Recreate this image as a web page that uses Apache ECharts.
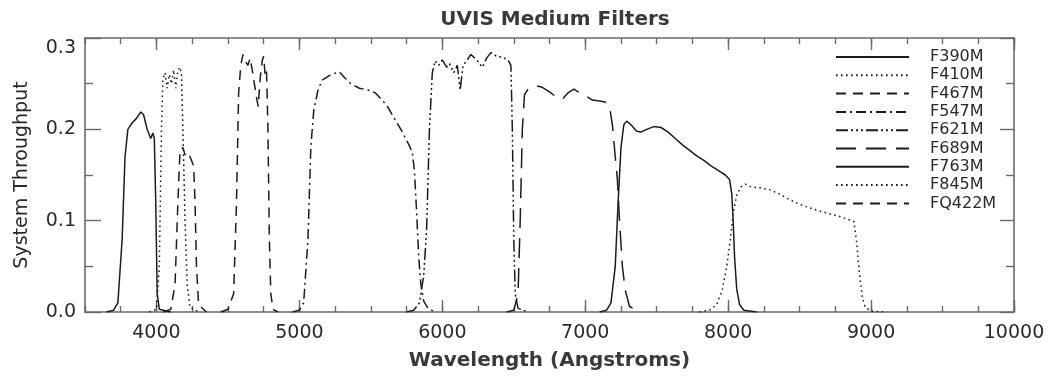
<!DOCTYPE html>
<html>
<head>
<meta charset="utf-8">
<script src="https://cdn.jsdelivr.net/npm/echarts@6/dist/echarts.min.js"></script>
<style>
  html, body { margin: 0; padding: 0; background: #ffffff; }
  #chart { width: 1052px; height: 376px; }
</style>
</head>
<body>
<div id="chart"></div>
<script>
// Filter throughput curves: [wavelength (Angstroms), system throughput]
const F390M = [[3650,0],[3700,0.002],[3730,0.01],[3760,0.08],[3780,0.17],[3800,0.2],[3830,0.207],[3860,0.212],[3890,0.219],[3910,0.216],[3935,0.2],[3960,0.19],[3975,0.196],[3985,0.19],[3995,0.12],[4005,0.02],[4020,0.003],[4100,0]];
const F410M = [[3950,0],[4000,0.003],[4020,0.05],[4035,0.2],[4045,0.255],[4060,0.262],[4075,0.245],[4090,0.26],[4105,0.25],[4120,0.265],[4135,0.245],[4150,0.265],[4165,0.268],[4175,0.26],[4185,0.2],[4200,0.1],[4215,0.03],[4235,0.005],[4300,0]];
const F467M = [[4450,0],[4500,0.003],[4540,0.02],[4560,0.12],[4575,0.24],[4590,0.27],[4605,0.282],[4620,0.275],[4640,0.27],[4655,0.278],[4670,0.265],[4685,0.25],[4700,0.235],[4712,0.225],[4725,0.255],[4740,0.275],[4750,0.28],[4760,0.26],[4770,0.265],[4780,0.2],[4790,0.08],[4800,0.02],[4815,0.003],[4850,0]];
const F547M = [[4950,0],[5000,0.002],[5030,0.01],[5060,0.08],[5080,0.18],[5100,0.22],[5130,0.243],[5160,0.254],[5220,0.26],[5280,0.263],[5320,0.256],[5360,0.25],[5420,0.245],[5480,0.243],[5530,0.24],[5580,0.232],[5620,0.224],[5660,0.213],[5710,0.2],[5760,0.185],[5790,0.175],[5805,0.155],[5820,0.11],[5835,0.06],[5850,0.03],[5870,0.012],[5900,0.004],[5950,0]];
const F621M = [[5750,0],[5800,0.002],[5840,0.01],[5870,0.04],[5890,0.09],[5910,0.2],[5930,0.262],[5950,0.275],[5975,0.27],[6000,0.276],[6030,0.268],[6050,0.272],[6080,0.262],[6105,0.27],[6125,0.243],[6145,0.27],[6170,0.275],[6200,0.282],[6240,0.276],[6280,0.268],[6310,0.278],[6340,0.284],[6380,0.28],[6420,0.279],[6460,0.276],[6480,0.27],[6490,0.2],[6500,0.08],[6510,0.02],[6530,0.004],[6600,0]];
const F689M = [[6450,0],[6500,0.002],[6530,0.02],[6545,0.1],[6560,0.2],[6575,0.238],[6600,0.244],[6650,0.248],[6700,0.246],[6750,0.241],[6800,0.235],[6840,0.233],[6880,0.24],[6920,0.244],[6960,0.24],[7000,0.237],[7050,0.232],[7100,0.231],[7140,0.23],[7170,0.225],[7190,0.205],[7210,0.17],[7225,0.145],[7240,0.1],[7260,0.05],[7280,0.024],[7310,0.006],[7380,0]];
const F763M = [[7100,0],[7150,0.002],[7180,0.01],[7210,0.05],[7230,0.12],[7250,0.18],[7270,0.205],[7290,0.209],[7320,0.205],[7360,0.198],[7390,0.197],[7430,0.2],[7480,0.203],[7530,0.202],[7580,0.197],[7630,0.19],[7680,0.183],[7730,0.177],[7780,0.171],[7830,0.166],[7880,0.16],[7930,0.155],[7980,0.15],[8010,0.145],[8025,0.13],[8035,0.1],[8045,0.06],[8060,0.025],[8080,0.008],[8110,0.002],[8200,0]];
const F845M = [[7800,0],[7870,0.002],[7920,0.008],[7960,0.025],[7990,0.05],[8015,0.079],[8035,0.108],[8060,0.128],[8090,0.137],[8120,0.14],[8160,0.137],[8220,0.136],[8290,0.134],[8360,0.129],[8430,0.123],[8500,0.118],[8570,0.114],[8630,0.111],[8700,0.108],[8770,0.105],[8830,0.102],[8880,0.099],[8900,0.075],[8920,0.04],[8940,0.015],[8960,0.005],[9000,0.001],[9100,0]];
const FQ422M = [[4050,0],[4100,0.003],[4130,0.03],[4150,0.12],[4165,0.178],[4185,0.18],[4200,0.172],[4220,0.175],[4240,0.168],[4260,0.16],[4270,0.12],[4280,0.05],[4295,0.008],[4350,0]];

const filterNames = ['F390M', 'F410M', 'F467M', 'F547M', 'F621M', 'F689M', 'F763M', 'F845M', 'FQ422M'];
const filterCurves = [F390M, F410M, F467M, F547M, F621M, F689M, F763M, F845M, FQ422M];

// Axis ranges and tick positions
const xMin = 3500, xMax = 10000;
const xMajorTicks = [4000, 5000, 6000, 7000, 8000, 9000, 10000];
const xMinorStep = 250;
const yMin = 0, yMax = 0.3, yStep = 0.1;

// Line dash patterns, cycling solid, dotted, dashed, dash-dot, dash-dot-dot-dot, long dash
const SOLID = 'solid';
const DOTTED = [1.6, 3.4];
const DASHED = [10, 7];
const DASH_DOT = [10, 4, 2, 4];
const DASH_3DOT = [12, 3, 2, 3, 2, 3, 2, 3];
const LONG_DASH = [20, 10];
const dashStyles = [SOLID, DOTTED, DASHED, DASH_DOT, DASH_3DOT, LONG_DASH, SOLID, DOTTED, DASHED];

const INK = '#1c1c1c';
const FRAME = '#6a6a6a';
const TEXT = '#2a2a2a';
const FONT = 'DejaVu Sans';

const frameLine = { show: true, onZero: false, lineStyle: { color: FRAME, width: 1.6 } };
const tickLine = { color: FRAME, width: 1.4 };

const chart = echarts.init(document.getElementById('chart'), null, { renderer: 'canvas' });

const option = {
  animation: false,
  backgroundColor: '#ffffff',
  title: {
    text: 'UVIS Medium Filters',
    left: 550,
    top: 5,
    textAlign: 'center',
    textStyle: { fontFamily: FONT, fontSize: 20, fontWeight: 'bold', color: '#3a3a3a' }
  },
  grid: { left: 85, right: 38, top: 38, bottom: 64, containLabel: false },
  legend: {
    orient: 'vertical',
    left: 830,
    top: 44,
    itemWidth: 73,
    itemHeight: 12,
    itemGap: 2.3,
    selectedMode: false,
    itemStyle: { opacity: 0 },
    textStyle: { fontFamily: FONT, fontSize: 16, color: TEXT, padding: [0, 0, 0, 16] },
    data: filterNames
  },
  xAxis: [
    {
      type: 'value', min: xMin, max: xMax, position: 'bottom',
      axisLine: frameLine,
      axisTick: { show: true, inside: true, length: 12, customValues: xMajorTicks, lineStyle: tickLine },
      axisLabel: {
        show: true, customValues: xMajorTicks, margin: 12, fontFamily: FONT, fontSize: 19, color: TEXT,
        formatter: v => String(v)
      },
      splitLine: { show: false },
      name: 'Wavelength (Angstroms)', nameLocation: 'middle', nameGap: 39,
      nameTextStyle: { fontFamily: FONT, fontSize: 20, fontWeight: 'bold', color: '#3a3a3a' }
    },
    {
      type: 'value', min: xMin, max: xMax, interval: xMinorStep, position: 'bottom',
      axisLine: { show: false, onZero: false },
      axisTick: { show: true, inside: true, length: 6, lineStyle: tickLine },
      axisLabel: { show: false }, splitLine: { show: false }
    },
    {
      type: 'value', min: xMin, max: xMax, position: 'top',
      axisLine: frameLine,
      axisTick: { show: true, inside: true, length: 12, customValues: xMajorTicks, lineStyle: tickLine },
      axisLabel: { show: false }, splitLine: { show: false }
    },
    {
      type: 'value', min: xMin, max: xMax, interval: xMinorStep, position: 'top',
      axisLine: { show: false, onZero: false },
      axisTick: { show: true, inside: true, length: 6, lineStyle: tickLine },
      axisLabel: { show: false }, splitLine: { show: false }
    }
  ],
  yAxis: [
    {
      type: 'value', min: yMin, max: yMax, interval: yStep, position: 'left',
      axisLine: frameLine,
      axisTick: { show: true, inside: true, length: 16, lineStyle: tickLine },
      minorTick: { show: true, splitNumber: 2, length: 8, lineStyle: tickLine },
      axisLabel: {
        show: true, margin: 9, fontFamily: FONT, fontSize: 19, color: TEXT,
        formatter: v => (Math.abs(v - yMax) < 1e-9 ? '{top|' + v.toFixed(1) + '}' : v.toFixed(1)),
        rich: { top: { fontFamily: FONT, fontSize: 19, color: TEXT, padding: [20, 0, 0, 0] } }
      },
      splitLine: { show: false },
      name: 'System Throughput', nameLocation: 'middle', nameGap: 53,
      nameTextStyle: { fontFamily: FONT, fontSize: 19, color: TEXT }
    },
    {
      type: 'value', min: yMin, max: yMax, interval: yStep, position: 'right',
      axisLine: frameLine,
      axisTick: { show: true, inside: true, length: 14, lineStyle: tickLine },
      minorTick: { show: true, splitNumber: 2, length: 8, lineStyle: tickLine },
      axisLabel: { show: false }, splitLine: { show: false }
    }
  ],
  series: filterNames.map((name, i) => ({
    name: name,
    type: 'line',
    xAxisIndex: 0,
    yAxisIndex: 0,
    data: filterCurves[i],
    symbol: 'none',
    showSymbol: false,
    smooth: false,
    itemStyle: { color: INK },
    lineStyle: { color: INK, width: 1.5, type: dashStyles[i] }
  }))
};

chart.setOption(option);
</script>
</body>
</html>
